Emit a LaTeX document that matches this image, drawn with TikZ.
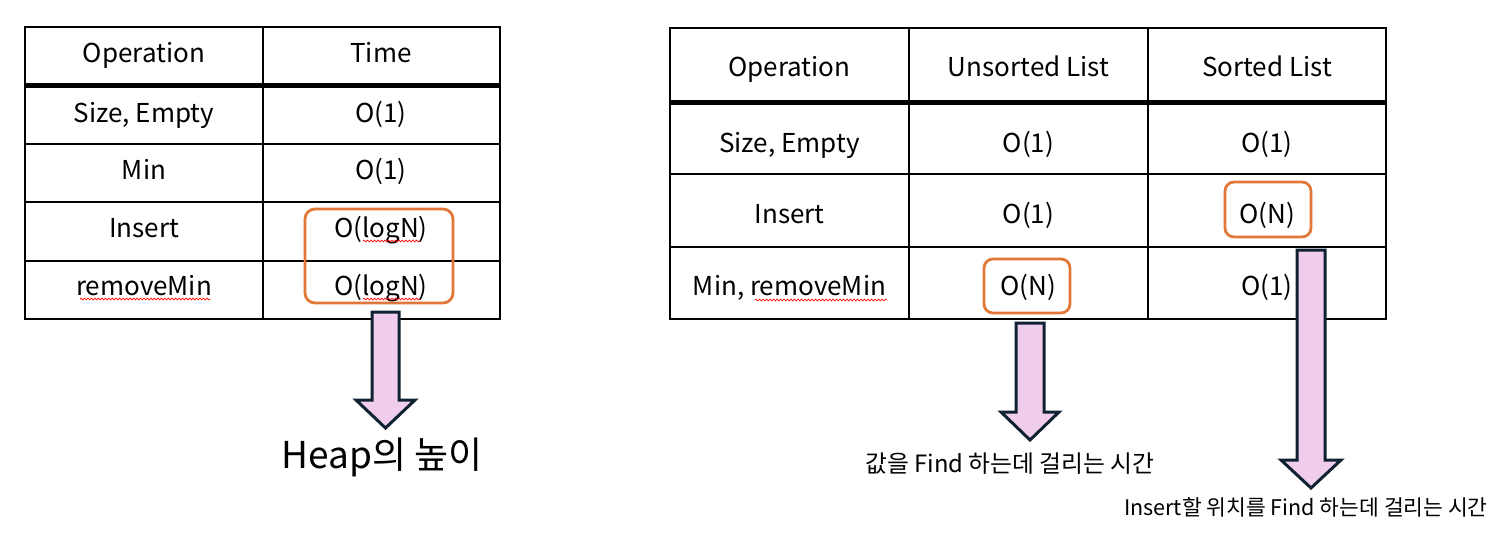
\documentclass[tikz,border=0pt]{standalone}
\usepackage{fontspec}
\setmainfont{Noto Sans CJK KR}
\usepackage{tikz}
\usetikzlibrary{decorations.pathmorphing}
\definecolor{hlorange}{RGB}{226,120,56}
\definecolor{arrowpink}{RGB}{240,205,236}
\definecolor{arrowline}{RGB}{16,34,50}
\tikzset{
  cell/.style = {anchor=base, inner sep=0pt, font=\fontsize{26}{30}\selectfont},
  grid/.style = {draw=black, line width=2pt},
  headline/.style = {draw=black, line width=5pt},
  hlbox/.style = {draw=hlorange, line width=2.8pt, rounded corners=10pt},
  bigarrow/.style = {draw=arrowline, fill=arrowpink, line width=3pt, line join=miter},
  note/.style = {anchor=base, inner sep=0pt},
  squiggle/.style = {draw=red, line width=0.7pt, decorate, decoration={snake, amplitude=0.9pt, segment length=3.5pt}}
}
\begin{document}
\begin{tikzpicture}[x=1pt,y=-1pt]
\useasboundingbox (0,0) rectangle (1498,539);
% heap table
\draw[grid] (25,27) rectangle (500,319);
\draw[grid] (263,27) -- (263,319);
\draw[grid] (25,144) -- (500,144) (25,202) -- (500,202) (25,261) -- (500,261);
\draw[headline] (25,85) -- (500,85);
\node[cell] (hop) at (144,62) {Operation};
\node[cell] (htime) at (381,62) {Time};
\node[cell] (hsize) at (144,122) {Size, Empty};
\node[cell] (hsizet) at (381,122) {O(1)};
\node[cell] (hmin) at (144,179) {Min};
\node[cell] (hmint) at (381,179) {O(1)};
\node[cell] (hins) at (144,237) {Insert};
\node[cell] (hinst) at (381,237) {O(logN)};
\node[cell] (hrem) at (144,295) {removeMin};
\node[cell] (hremt) at (381,295) {O(logN)};
\draw[squiggle] (80,299) -- (210,299);
\draw[squiggle] (363,241) -- (420,241);
\draw[squiggle] (363,299) -- (420,299);
\draw[hlbox] (305,209) rectangle (453,303);
\draw[bigarrow] (372,312) -- (399,312) -- (399,400) -- (415,400) -- (385.5,428) -- (356,400) -- (372,400) -- cycle;
\node[note, font=\fontsize{37}{42}\selectfont] (height) at (382,468) {Heap의 높이};
% list table
\draw[grid] (670,28) rectangle (1386,319);
\draw[grid] (909,28) -- (909,319) (1148,28) -- (1148,319);
\draw[grid] (670,174) -- (1386,174) (670,247) -- (1386,247);
\draw[headline] (670,102) -- (1386,102);
\node[cell] (lop) at (789.5,76) {Operation};
\node[cell] (lun) at (1028.5,76) {Unsorted List};
\node[cell] (lso) at (1267,76) {Sorted List};
\node[cell] (lsize) at (789.5,152) {Size, Empty};
\node[cell] (lsizeu) at (1028.5,152) {O(1)};
\node[cell] (lsizes) at (1267,152) {O(1)};
\node[cell] (lins) at (789.5,223) {Insert};
\node[cell] (linsu) at (1028.5,223) {O(1)};
\node[cell] (linss) at (1267,223) {O(N)};
\node[cell] (lmin) at (789.5,295) {Min, removeMin};
\node[cell] (lminu) at (1028.5,295) {O(N)};
\node[cell] (lmins) at (1267,295) {O(1)};
\draw[squiggle] (755,300) -- (887,300);
\draw[hlbox, rounded corners=9pt] (1225,182) rectangle (1311,237);
\draw[hlbox, rounded corners=9pt] (984,259) rectangle (1070,313);
\draw[bigarrow] (1016,323) -- (1044,323) -- (1044,412) -- (1059,412) -- (1030,440) -- (1001,412) -- (1016,412) -- cycle;
\draw[bigarrow] (1297,250) -- (1325,250) -- (1325,460) -- (1341,460) -- (1311,488) -- (1281,460) -- (1297,460) -- cycle;
\node[note, font=\fontsize{23.8}{26}\selectfont] (findval) at (1010,472) {값을 Find 하는데 걸리는 시간};
\node[note, font=\fontsize{21.5}{24}\selectfont] (findpos) at (1306,515) {Insert할 위치를 Find 하는데 걸리는 시간};
\end{tikzpicture}
\end{document}
